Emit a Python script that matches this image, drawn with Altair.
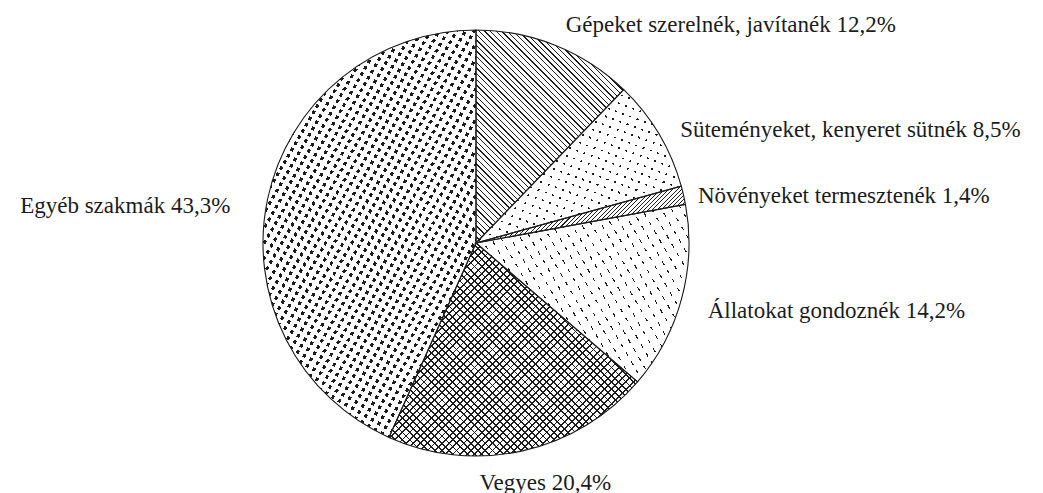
import math
import itertools
import altair as alt
import pandas as pd

# ---- data -------------------------------------------------------------
categories = [
    "Gépeket szerelnék, javítanék",
    "Süteményeket, kenyeret sütnék",
    "Növényeket termesztenék",
    "Állatokat gondoznék",
    "Vegyes",
    "Egyéb szakmák",
]
values = [12.2, 8.5, 1.4, 14.2, 20.4, 43.3]
value_labels = ["12,2%", "8,5%", "1,4%", "14,2%", "20,4%", "43,3%"]

df = pd.DataFrame({
    "order": list(range(len(categories))),
    "category": categories,
    "value": values,
    "label": [f"{c} {v}" for c, v in zip(categories, value_labels)],
})

# ---- style ------------------------------------------------------------
R = 213            # pie radius (px)
CX, CY = 468, 235  # pie centre inside the view
INK = "#1c1c1c"
CLEAR = "rgba(255,255,255,0)"
TAU = 2 * math.pi
FONT = "Liberation Serif, Times New Roman, Times, serif"
TEX = 256          # gradient ramp resolution used by the rasteriser

total = sum(values)
ends = list(itertools.accumulate(values))
angles = [((e - v) / total * TAU, e / total * TAU) for e, v in zip(ends, values)]


def arc_box(a0, a1):
    pts = [(0.0, 0.0), (R * math.sin(a0), -R * math.cos(a0)), (R * math.sin(a1), -R * math.cos(a1))]
    for k in range(5):
        a = k * math.pi / 2
        if a0 < a < a1:
            pts.append((R * math.sin(a), -R * math.cos(a)))
    xs = [p[0] for p in pts]
    ys = [p[1] for p in pts]
    return max(xs) - min(xs), max(ys) - min(ys)


def stripes(box, normal_deg, period, width, ink, paper):
    """Linear gradient with hard stops drawing evenly spaced bands, snapped to ramp cells."""
    W, H = box
    t = math.radians(normal_deg)
    gx, gy = math.cos(t), math.sin(t)
    Gu, Gv = W * gx, H * gy
    corners = [(0, 0), (1, 0), (0, 1), (1, 1)]
    s = [u * Gu + v * Gv for u, v in corners]
    smin, smax = min(s), max(s)
    u1, v1 = corners[s.index(smin)]
    span = smax - smin
    c = span / (Gu * Gu + Gv * Gv)
    cell = span / TEX
    kp = max(2, round(period / cell))
    kw = max(1, min(kp - 1, round(width / cell)))
    stops = [{"offset": 0, "color": paper}]
    j = 0
    while j < TEX:
        a = j / TEX
        b = min(j + kw, TEX) / TEX
        stops += [
            {"offset": a, "color": paper},
            {"offset": a, "color": ink},
            {"offset": b, "color": ink},
            {"offset": b, "color": paper},
        ]
        j += kp
    stops.append({"offset": 1, "color": paper})
    return {"gradient": "linear", "x1": u1, "y1": v1,
            "x2": u1 + c * Gu, "y2": v1 + c * Gv, "stops": stops}


def hatch(normal, period, width=1.0, paper="white"):
    return lambda box: stripes(box, normal, period, width, INK, paper)


def mask(normal, period, gap):
    return lambda box: stripes(box, normal, period, gap, CLEAR, "white")


def solid(box):
    return INK


patterns = [
    [hatch(-45, 3.8, 0.9)],                                   # \\\\ hatching
    [solid, mask(20, 8, 1.7), mask(110, 8.5, 1.7)],           # sparse dots
    [hatch(45, 3.0, 0.9)],                                    # //// hatching
    [solid, mask(60, 10, 4.2), mask(150, 9, 1.2)],            # short dashes
    [hatch(45, 5.0, 0.9), hatch(-45, 5.0, 0.9, paper=CLEAR)],  # cross hatching
    [solid, mask(30, 7.0, 2.8), mask(120, 7.0, 2.8)],         # dense dots
]

label_style = [
    ("left", 0, 12),
    ("left", -2, 17),
    ("left", -12, 14),
    ("left", 0, 12),
    ("center", 17, 13),
    ("right", -11, 20),
]

# ---- chart ------------------------------------------------------------
base = alt.Chart(df).transform_window(
    cum="sum(value)", sort=[alt.SortField("order")], frame=[None, 0]
).transform_calculate(
    start="datum.cum - datum.value",
    mid="datum.cum - datum.value / 2",
)

theta_scale = alt.Scale(domain=[0, total], range=[0, TAU])
arc_enc = dict(
    theta=alt.Theta("start:Q", scale=theta_scale, stack=False),
    theta2=alt.Theta2("cum:Q"),
    x=alt.value(CX),
    y=alt.value(CY),
)

layers = []
for i, pats in enumerate(patterns):
    box = arc_box(*angles[i])
    for p in pats:
        layers.append(
            base.transform_filter(alt.datum.order == i)
            .mark_arc(radius=R, fill=p(box), strokeWidth=0)
            .encode(**arc_enc)
        )

layers.append(base.mark_arc(radius=R, filled=False, stroke=INK, strokeWidth=1.1).encode(**arc_enc))

for i, (align, dx, dy) in enumerate(label_style):
    layers.append(
        base.transform_filter(alt.datum.order == i)
        .mark_text(align=align, baseline="alphabetic", dx=dx, dy=dy,
                   font=FONT, fontSize=23, color=INK)
        .encode(
            theta=alt.Theta("mid:Q", scale=theta_scale, stack=False),
            radius=alt.value(240),
            text="label:N",
            x=alt.value(CX),
            y=alt.value(CY),
        )
    )

chart = alt.layer(*layers).properties(
    width=1027, height=485,
    autosize=alt.AutoSizeParams(type="none"),
    padding=0,
).configure_view(stroke=None)

chart.save("out.html", embed_options={"renderer": "svg", "actions": False})
